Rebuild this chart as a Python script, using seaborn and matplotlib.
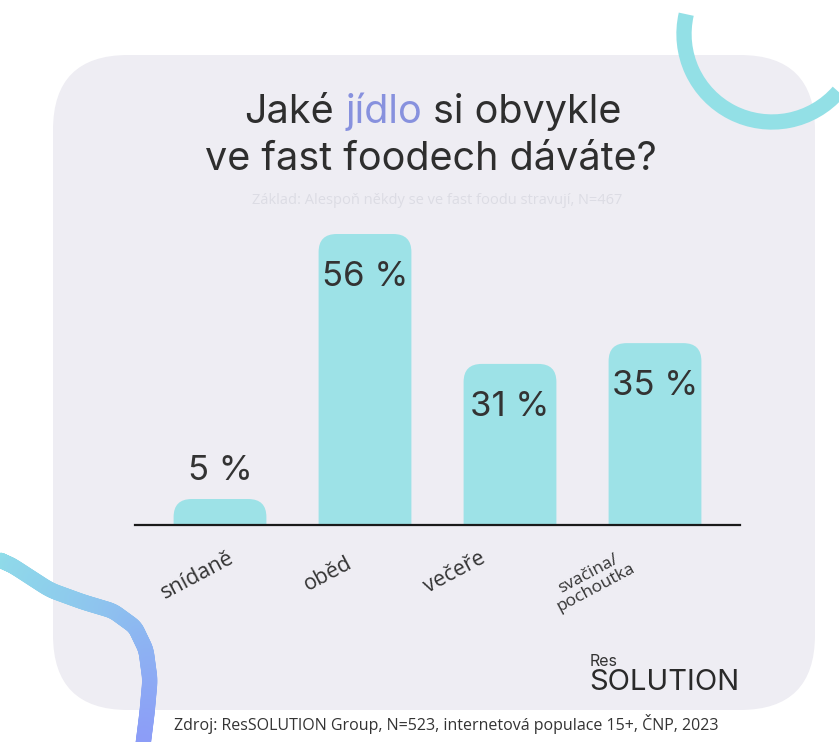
import numpy as np
import matplotlib
matplotlib.use("Agg")
import matplotlib.pyplot as plt
import seaborn as sns
from matplotlib.patches import FancyBboxPatch, Arc
from matplotlib.collections import LineCollection
from matplotlib.colors import to_rgb

# ---------------- data ----------------
categories = ["snídaně", "oběd", "večeře", "svačina/\npochoutka"]
values = [5, 56, 31, 35]
value_labels = ["5 %", "56 %", "31 %", "35 %"]
title_parts = ["Jaké ", "jídlo", " si obvykle"]
title_line2 = "ve fast foodech dáváte?"
subtitle = "Základ: Alespoň někdy se ve fast foodu stravují, N=467"
source = "Zdroj: ResSOLUTION Group, N=523, internetová populace 15+, ČNP, 2023"

# ---------------- style ----------------
W, H = 839, 742
BAR = "#9de2e7"
PANEL = "#eeedf3"
DARK = "#2e2e2e"
ACCENT = "#8791de"

sns.set_theme(style="white")
plt.rcParams["font.family"] = ["Inter", "DejaVu Sans"]

fig = plt.figure(figsize=(W / 100, H / 100), dpi=100)
fig.patch.set_facecolor("white")

# background axes in pixel coordinates
bg = fig.add_axes([0, 0, 1, 1], zorder=0)
bg.set_xlim(0, W)
bg.set_ylim(H, 0)
bg.axis("off")

panel = FancyBboxPatch((53, 55), 762, 655,
                       boxstyle="round,pad=0,rounding_size=75",
                       facecolor=PANEL, edgecolor="none")
bg.add_patch(panel)

# top-right decorative arc (y axis inverted -> angles measured downward)
bg.add_patch(Arc((772, 34), 176, 176, angle=0, theta1=41, theta2=193,
                 color="#93e0e6", lw=11, zorder=3))

# bottom-left gradient curve
pts = np.array([(0, 560), (13, 566), (50, 590), (83, 602), (113, 611), (135, 627),
                (146, 650), (150, 680), (147, 713), (143, 745)], dtype=float)
t = np.linspace(0, 1, len(pts))
tt = np.linspace(0, 1, 200)
xs = np.interp(tt, t, pts[:, 0])
ys = np.interp(tt, t, pts[:, 1])
k = 9
kern = np.ones(k) / k
xs_s = np.convolve(np.pad(xs, k // 2, mode="edge"), kern, mode="valid")
ys_s = np.convolve(np.pad(ys, k // 2, mode="edge"), kern, mode="valid")
segs = np.stack([np.column_stack([xs_s[:-1], ys_s[:-1]]),
                 np.column_stack([xs_s[1:], ys_s[1:]])], axis=1)
c0, c1 = np.array(to_rgb("#8fdfe8")), np.array(to_rgb("#8c9df7"))
cols = [tuple(c0 + (c1 - c0) * f) for f in np.linspace(0, 1, len(segs))]
lc = LineCollection(segs, colors=cols, linewidths=11, capstyle="round", zorder=3)
bg.add_collection(lc)

# ---------------- title ----------------
fs_title = 28.5
tkw = dict(fontsize=fs_title)
renderer = fig.canvas.get_renderer()

def text_w(s, **kw):
    tmp = bg.text(0, 0, s, **kw)
    w = tmp.get_window_extent(renderer=renderer).width
    tmp.remove()
    return w

full = "".join(title_parts)
tw = text_w(full, **tkw)
x0 = 433 - tw / 2
y1 = 123
bg.text(x0, y1, title_parts[0].strip(), color=DARK, va="baseline", ha="left", **tkw)
xa = x0 + text_w(title_parts[0] + title_parts[1], **tkw) - text_w(title_parts[1], **tkw)
bg.text(xa, y1, title_parts[1], color=ACCENT, va="baseline", ha="left", **tkw)
xb = x0 + tw - text_w(title_parts[2].strip(), **tkw)
bg.text(xb, y1, title_parts[2].strip(), color=DARK, va="baseline", ha="left", **tkw)
bg.text(431, 170, title_line2, color=DARK, va="baseline", ha="center", **tkw)

bg.text(437, 200, subtitle, fontsize=10.5, color="#dcdce4", ha="center", va="center",
        family=["Open Sans", "DejaVu Sans"])

# source & logo
bg.text(446, 724, source, fontsize=11.5, color="#333333", ha="center", va="center",
        family=["Open Sans", "DejaVu Sans"])
bg.text(590, 661, "Res", fontsize=11.5, color="#333333", ha="left", va="center")
bg.text(589, 683, "SOLUTION", fontsize=21, color="#2a2a2a", ha="left", va="center")

# ---------------- chart ----------------
px_per_unit = 145.0
left_px, right_px = 135, 740
base_px = 525
px_per_pct = 291 / 56
ymax = 58
ax = fig.add_axes([left_px / W, (H - base_px) / H, (right_px - left_px) / W,
                   ymax * px_per_pct / H], zorder=2)
ax.patch.set_alpha(0)

sns.barplot(x=categories, y=values, color=BAR, width=0.64, saturation=1, ax=ax)
ax.set_xlim(-(220 - left_px) / px_per_unit, (right_px - 220) / px_per_unit)
ax.set_ylim(0, ymax)

# replace bars with top-rounded versions
r_x = 0.125
aspect = (18 / px_per_pct) / r_x
for p in list(ax.patches):
    x, w, h = p.get_x(), p.get_width(), p.get_height()
    p.set_visible(False)
    rb = FancyBboxPatch((x, -20), w, h + 20,
                        boxstyle=f"round,pad=0,rounding_size={r_x}",
                        mutation_aspect=aspect, facecolor=BAR, edgecolor="none",
                        clip_on=True)
    ax.add_patch(rb)

for i, (v, lab) in enumerate(zip(values, value_labels)):
    off = 20 if v < 15 else -31
    ax.annotate(lab, (i, v), xytext=(0, off), textcoords="offset points",
                ha="center", va="center", fontsize=25, color="#333333")

for s in ["top", "left", "right"]:
    ax.spines[s].set_visible(False)
ax.spines["bottom"].set_color("#1a1a1a")
ax.spines["bottom"].set_linewidth(1.6)
ax.set_yticks([])
ax.set_xticks([])
ax.set_xlabel("")
ax.set_ylabel("")

label_offsets = [(-22, -50), (-37, -49), (-55, -48), (-63, -56)]
label_sizes = [15.5, 15.5, 15.5, 12.5]
for i, (cat, (dx, dy), fs) in enumerate(zip(categories, label_offsets, label_sizes)):
    ax.annotate(cat, (i, 0), xytext=(dx * 0.72, dy * 0.72), textcoords="offset points",
                ha="center", va="center", rotation=28, rotation_mode="anchor",
                fontsize=fs, color="#333333", family=["Open Sans", "DejaVu Sans"],
                linespacing=0.95, annotation_clip=False)

fig.savefig("out.png", dpi=100, facecolor="white")
